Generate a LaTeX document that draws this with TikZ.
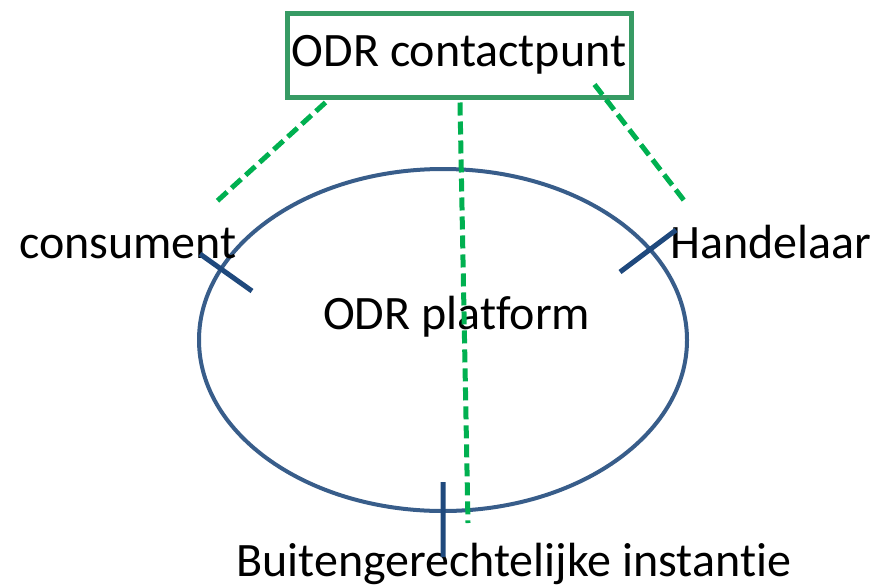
\documentclass[tikz,border=0pt]{standalone}
\usepackage{fontspec}
\setmainfont{Carlito}[Ligatures=NoCommon]

\definecolor{boxgreen}{RGB}{55,155,100}
\definecolor{dashgreen}{RGB}{0,176,80}
\definecolor{ringblue}{RGB}{56,93,138}
\definecolor{tickblue}{RGB}{31,73,125}

\tikzset{
    link/.style={dashgreen, line width=5pt, dash pattern=on 13pt off 6pt},
    tick/.style={tickblue, line width=5pt}
}

\begin{document}
\begin{tikzpicture}[x=1pt, y=-1pt, every node/.append style={font=\fontsize{48}{50}\selectfont, inner sep=0pt}]

    \useasboundingbox (0,0) rectangle (875,587);

    \def\rx{244}
    \def\ry{171}      % Vertical radius of the platform ring

    \node[draw=boxgreen, line width=5pt, minimum width=344pt, minimum height=84pt] (contact) at (459,55) {ODR contactpunt};

    \draw[ringblue, line width=4pt]
        (443,340) ellipse [x radius=\rx, y radius=\ry]
    ;

    \node[anchor=base west] (platform) at (323,329) {ODR platform};
    \node[anchor=base west] (consument) at (19,258) {consument};
    \node[anchor=base west] (handelaar) at (670,258) {Handelaar};
    \node[anchor=base west] (instantie) at (236,576) {Buitengerechtelijke instantie};

    \coordinate (lefttip) at (215,203);
    \coordinate (midtip) at (468,523);
    \coordinate (righttip) at (686,203);

    \draw[link]
        (contact.south west) ++(41,3) -- (lefttip)        % Start just below the box and run down to the left
        (contact.south) ++(1,3) -- (midtip)
        (contact.south east) ++(-39,-15) -- (righttip)
    ;

    \draw[tick]
        (200,254) -- (252,291)
        (676,230) -- (620,272)
        (443,482) -- (443,557)
    ;

\end{tikzpicture}
\end{document}
